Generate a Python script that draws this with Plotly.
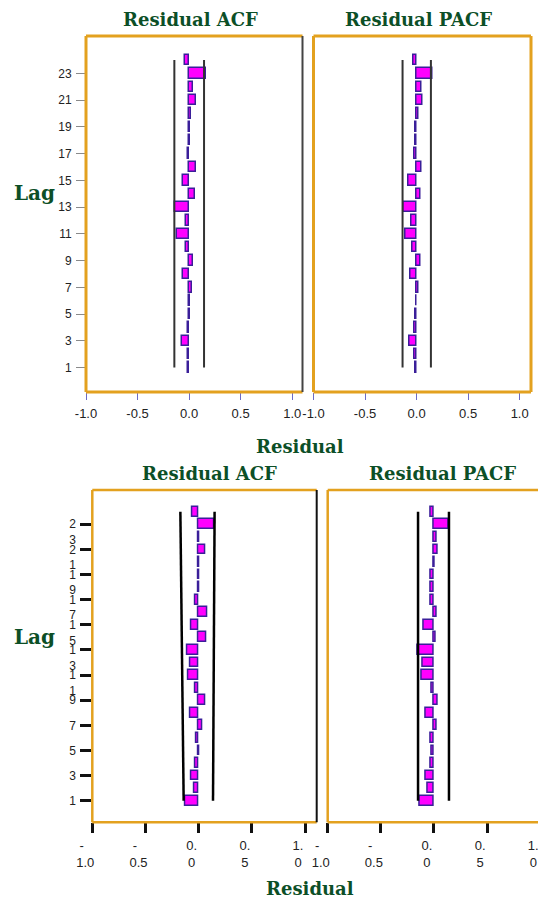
import plotly.graph_objects as go

W, H = 546, 899
OFF = 8  # default page body margin
FW, FH = W - OFF, H - OFF

# ---------------- data ----------------
lags = list(range(1, 25))

acf_top = [-0.01, -0.015, -0.07, -0.015, 0.004, 0.005, 0.03, -0.06, 0.04, -0.03,
           -0.115, -0.03, -0.14, 0.06, -0.06, 0.07, -0.015, 0.01, 0.01, 0.02,
           0.07, 0.035, 0.162, -0.035]
pacf_top = [-0.015, -0.025, -0.07, -0.02, -0.01, -0.005, 0.02, -0.06, 0.04, -0.035,
            -0.11, -0.045, -0.13, 0.035, -0.075, 0.05, -0.02, -0.01, -0.01, 0.02,
            0.06, 0.05, 0.15, -0.03]
acf_bot = [-0.125, -0.04, -0.065, -0.03, 0.004, -0.02, 0.03, -0.075, 0.065, -0.03,
           -0.10, -0.075, -0.11, 0.075, -0.07, 0.085, -0.03, 0.004, 0.004, 0.005,
           0.06, 0.01, 0.15, -0.06]
pacf_bot = [-0.13, -0.055, -0.075, -0.035, -0.025, -0.03, 0.025, -0.08, 0.035, -0.02,
            -0.12, -0.105, -0.15, 0.015, -0.10, 0.025, -0.03, -0.03, -0.03, 0.004,
            0.035, 0.025, 0.14, -0.035]

# confidence limits (value at lag 1, value at lag 24)
conf_lags = [1, 24]
acf_top_lo, acf_top_hi = [-0.143, -0.143], [0.145, 0.145]
pacf_top_lo, pacf_top_hi = [-0.136, -0.136], [0.139, 0.139]
acf_bot_lo, acf_bot_hi = [-0.141, -0.172], [0.135, 0.150]
pacf_bot_lo, pacf_bot_hi = [-0.150, -0.150], [0.141, 0.141]

x_tickvals = [-1.0, -0.5, 0.0, 0.5, 1.0]
x_ticktext_top = ["-1.0", "-0.5", "0.0", "0.5", "1.0"]
x_ticktext_bot = ["-\u00a0\u00a0<br>1.0", "-\u00a0\u00a0<br>0.5", "0.<br>0", "0.<br>5", "1.<br>0"]
y_tickvals = [1, 3, 5, 7, 9, 11, 13, 15, 17, 19, 21, 23]
y_ticktext_top = ["1", "3", "5", "7", "9", "11", "13", "15", "17", "19", "21", "23"]
y_ticktext_bot = ["1", "3", "5", "7", "9",
                  "\u00a0<br>1<br>1", "\u00a0<br>1<br>3", "\u00a0<br>1<br>5",
                  "\u00a0<br>1<br>7", "\u00a0<br>1<br>9", "\u00a0<br>2<br>1",
                  "\u00a0<br>2<br>3"]

# ---------------- styling ----------------
ORANGE = "#E3A11F"
GREEN = "#0c4f27"
BAR_FILL = "#FF00FF"
BAR_LINE = "#3A1F99"
TITLE_FONT = "DejaVu Serif"
TICK_FONT = "Liberation Sans"


def px_x(x):
    return (x - OFF) / FW


def px_y(y):
    return 1 - (y - OFF) / FH


# subplot boxes in window pixels: (left, right, top, bottom)
boxes = {
    1: (86, 302.5, 36, 392),
    2: (313.5, 531, 36, 392),
    3: (92.3, 316.7, 490, 822.3),
    4: (327.7, 546, 490, 822.3),
}
x_ranges = {1: [-1.0, 1.1], 2: [-1.0, 1.11], 3: [-1.0, 1.11], 4: [-1.0, 1.054]}
y_ranges = {1: [-0.83, 25.8], 2: [-0.83, 25.8], 3: [-0.72, 25.73], 4: [-0.72, 25.73]}

panels = [
    (1, acf_top, acf_top_lo, acf_top_hi),
    (2, pacf_top, pacf_top_lo, pacf_top_hi),
    (3, acf_bot, acf_bot_lo, acf_bot_hi),
    (4, pacf_bot, pacf_bot_lo, pacf_bot_hi),
]

fig = go.Figure()

for k, vals, lo, hi in panels:
    xa = "x" if k == 1 else f"x{k}"
    ya = "y" if k == 1 else f"y{k}"
    lw_conf = 2 if k <= 2 else 2.5
    col_conf = "#333333" if k <= 2 else "#000000"
    for c in (lo, hi):
        fig.add_trace(go.Scatter(x=c, y=conf_lags, mode="lines",
                                 line=dict(color=col_conf, width=lw_conf),
                                 xaxis=xa, yaxis=ya, showlegend=False,
                                 hoverinfo="skip"))
    fig.add_trace(go.Bar(x=vals, y=lags, orientation="h", width=0.78,
                         marker=dict(color=BAR_FILL,
                                     line=dict(color=BAR_LINE, width=1.5)),
                         xaxis=xa, yaxis=ya, showlegend=False))

layout = dict(
    width=FW, height=FH,
    margin=dict(l=0, r=0, t=0, b=0, pad=0),
    paper_bgcolor="white", plot_bgcolor="white",
    showlegend=False, bargap=0,
)

for k in range(1, 5):
    l, r, t, b = boxes[k]
    top_panel = k <= 2
    xkey = "xaxis" if k == 1 else f"xaxis{k}"
    ykey = "yaxis" if k == 1 else f"yaxis{k}"
    ya = "y" if k == 1 else f"y{k}"
    xa = "x" if k == 1 else f"x{k}"
    layout[xkey] = dict(
        domain=[px_x(l), min(px_x(r), 1.0)], anchor=ya, range=x_ranges[k],
        automargin=False,
        showgrid=False, zeroline=False, showline=False,
        tickmode="array", tickvals=x_tickvals,
        ticktext=x_ticktext_top if top_panel else x_ticktext_bot,
        ticks="outside",
        ticklen=7 if top_panel else 10,
        tickwidth=1.3 if top_panel else 2.5,
        tickcolor="#6a6ac8" if top_panel else "#111111",
        tickfont=dict(family=TICK_FONT, size=13, color="#222222"),
        ticklabelstandoff=2 if top_panel else 1,
        ticklabelshift=0 if top_panel else -7,
    )
    layout[ykey] = dict(
        domain=[px_y(b), px_y(t)], anchor=xa, range=y_ranges[k],
        automargin=False,
        showgrid=False, zeroline=False, showline=False,
        tickmode="array", tickvals=y_tickvals,
        ticktext=y_ticktext_top if top_panel else y_ticktext_bot,
        showticklabels=(k in (1, 3)),
        ticks="outside" if k in (1, 3) else "",
        ticklen=9 if top_panel else 11,
        tickwidth=1.3 if top_panel else 2.5,
        tickcolor="#8a8a8a" if top_panel else "#111111",
        tickfont=dict(family=TICK_FONT, size=12, color="#222222"),
        ticklabelstandoff=2,
    )

# frames
shapes = []
fw_top, fw_bot = 3, 2.5
for k in range(1, 5):
    l, r, t, b = boxes[k]
    fw = fw_top if k <= 2 else fw_bot
    L, R, T, B = px_x(l), min(px_x(r), 1.0), px_y(t), px_y(b)
    line_o = dict(color=ORANGE, width=fw)
    shapes.append(dict(type="line", xref="paper", yref="paper", x0=L, x1=L, y0=B, y1=T, line=line_o, layer="above"))
    shapes.append(dict(type="line", xref="paper", yref="paper", x0=L, x1=R, y0=T, y1=T, line=line_o, layer="above"))
    shapes.append(dict(type="line", xref="paper", yref="paper", x0=L, x1=R, y0=B, y1=B, line=line_o, layer="above"))
    if k == 1:
        shapes.append(dict(type="line", xref="paper", yref="paper", x0=R, x1=R, y0=B, y1=T,
                           line=dict(color="#444444", width=2), layer="above"))
    elif k == 2:
        shapes.append(dict(type="line", xref="paper", yref="paper", x0=R, x1=R, y0=B, y1=T, line=line_o, layer="above"))
    elif k == 3:
        shapes.append(dict(type="line", xref="paper", yref="paper", x0=R, x1=R, y0=B, y1=T,
                           line=dict(color="#111111", width=2), layer="above"))
layout["shapes"] = shapes


def label(text, x, y, size):
    return dict(text=f"<b>{text}</b>", x=px_x(x), y=px_y(y), xref="paper", yref="paper",
                showarrow=False, xanchor="center", yanchor="middle",
                font=dict(family=TITLE_FONT, size=size, color=GREEN))


layout["annotations"] = [
    label("Residual ACF", 190, 19, 18),
    label("Residual PACF", 418, 19, 18),
    label("Lag", 34, 193, 20),
    label("Residual", 300, 446, 18),
    label("Residual ACF", 209, 474, 18),
    label("Residual PACF", 442, 474, 18),
    label("Lag", 34, 637, 20),
    label("Residual", 310, 888, 18),
]

fig.update_layout(**layout)
fig.write_html("out.html")
